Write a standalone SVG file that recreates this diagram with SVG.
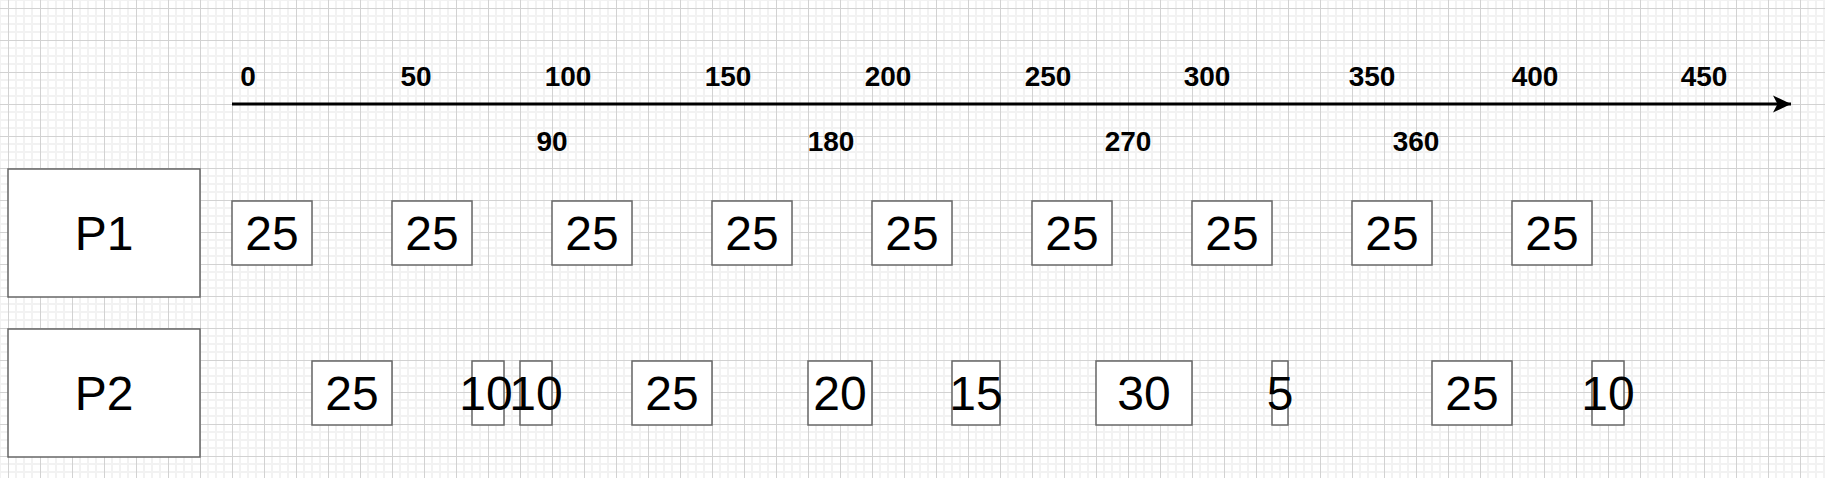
<svg xmlns="http://www.w3.org/2000/svg" width="1825" height="478" viewBox="0 0 1825 478">
<style>
.box{fill:#ffffff;stroke:#666666;stroke-width:1.5}
.big{font-family:"Liberation Sans",Arial,sans-serif;font-size:48px;fill:#000;text-anchor:middle}
.tick{font-family:"Liberation Sans",Arial,sans-serif;font-size:28px;font-weight:bold;fill:#000;text-anchor:middle}
</style>
<defs>
<pattern id="grid" x="8" y="8" width="32" height="32" patternUnits="userSpaceOnUse">
<path d="M8 0V32M16 0V32M24 0V32M0 8H32M0 16H32M0 24H32" stroke="#f2f2f2" stroke-width="2" fill="none"/>
<path d="M0.5 0V32M0 0.5H32" stroke="#d2d2d2" stroke-width="1" fill="none"/>
</pattern>
<marker id="arrow" markerUnits="userSpaceOnUse" markerWidth="20" markerHeight="20" refX="18" refY="9" orient="auto" viewBox="0 0 20 18">
<path d="M18 9L0 0.5L4.5 9L0 17.5Z" fill="#000"/>
</marker>
</defs>
<rect width="1825" height="478" fill="#ffffff"/>
<rect width="1825" height="478" fill="url(#grid)"/>

<g id="connectors">
<line x1="232" y1="104" x2="1791" y2="104" stroke="#000" stroke-width="3" marker-end="url(#arrow)"/>
</g>

<g id="ticks-top">
<text class="tick" x="248" y="86">0</text>
<text class="tick" x="416" y="86">50</text>
<text class="tick" x="568" y="86">100</text>
<text class="tick" x="728" y="86">150</text>
<text class="tick" x="888" y="86">200</text>
<text class="tick" x="1048" y="86">250</text>
<text class="tick" x="1207" y="86">300</text>
<text class="tick" x="1372" y="86">350</text>
<text class="tick" x="1535" y="86">400</text>
<text class="tick" x="1704" y="86">450</text>
</g>
<g id="ticks-bottom">
<text class="tick" x="552" y="151">90</text>
<text class="tick" x="831" y="151">180</text>
<text class="tick" x="1128" y="151">270</text>
<text class="tick" x="1416" y="151">360</text>
</g>

<g id="P1"><rect class="box" x="8" y="169" width="192" height="128"/><text class="big" x="104" y="250">P1</text></g>
<g id="P2"><rect class="box" x="8" y="329" width="192" height="128"/><text class="big" x="104" y="410">P2</text></g>

<g id="p1-1"><rect class="box" x="232" y="201" width="80" height="64"/><text class="big" x="272" y="250">25</text></g>
<g id="p1-2"><rect class="box" x="392" y="201" width="80" height="64"/><text class="big" x="432" y="250">25</text></g>
<g id="p1-3"><rect class="box" x="552" y="201" width="80" height="64"/><text class="big" x="592" y="250">25</text></g>
<g id="p1-4"><rect class="box" x="712" y="201" width="80" height="64"/><text class="big" x="752" y="250">25</text></g>
<g id="p1-5"><rect class="box" x="872" y="201" width="80" height="64"/><text class="big" x="912" y="250">25</text></g>
<g id="p1-6"><rect class="box" x="1032" y="201" width="80" height="64"/><text class="big" x="1072" y="250">25</text></g>
<g id="p1-7"><rect class="box" x="1192" y="201" width="80" height="64"/><text class="big" x="1232" y="250">25</text></g>
<g id="p1-8"><rect class="box" x="1352" y="201" width="80" height="64"/><text class="big" x="1392" y="250">25</text></g>
<g id="p1-9"><rect class="box" x="1512" y="201" width="80" height="64"/><text class="big" x="1552" y="250">25</text></g>

<g id="p2-1"><rect class="box" x="312" y="361" width="80" height="64"/><text class="big" x="352" y="410">25</text></g>
<g id="p2-2"><rect class="box" x="472" y="361" width="32" height="64"/><text class="big" x="486" y="410">10</text></g>
<g id="p2-3"><rect class="box" x="520" y="361" width="32" height="64"/><text class="big" x="536" y="410">10</text></g>
<g id="p2-4"><rect class="box" x="632" y="361" width="80" height="64"/><text class="big" x="672" y="410">25</text></g>
<g id="p2-5"><rect class="box" x="808" y="361" width="64" height="64"/><text class="big" x="840" y="410">20</text></g>
<g id="p2-6"><rect class="box" x="952" y="361" width="48" height="64"/><text class="big" x="976" y="410">15</text></g>
<g id="p2-7"><rect class="box" x="1096" y="361" width="96" height="64"/><text class="big" x="1144" y="410">30</text></g>
<g id="p2-8"><rect class="box" x="1272" y="361" width="16" height="64"/><text class="big" x="1280" y="410">5</text></g>
<g id="p2-9"><rect class="box" x="1432" y="361" width="80" height="64"/><text class="big" x="1472" y="410">25</text></g>
<g id="p2-10"><rect class="box" x="1592" y="361" width="32" height="64"/><text class="big" x="1608" y="410">10</text></g>
</svg>
